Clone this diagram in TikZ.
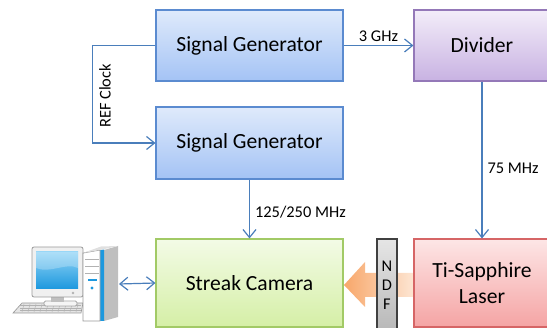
\documentclass[tikz,border=0pt]{standalone}
\usepackage{fontspec}
\setmainfont{Carlito}
\usetikzlibrary{arrows.meta}

\definecolor{linkblue}{HTML}{4A7EBB}
\definecolor{sgtop}{HTML}{DFEAFB}
\definecolor{sgbot}{HTML}{A4C3F5}
\definecolor{sgline}{HTML}{5B8BD0}
\definecolor{divtop}{HTML}{F3EDF9}
\definecolor{divbot}{HTML}{C8B2E2}
\definecolor{divline}{HTML}{9478B8}
\definecolor{camtop}{HTML}{F3FBE6}
\definecolor{cambot}{HTML}{D5EFA6}
\definecolor{camline}{HTML}{A2CA66}
\definecolor{lastop}{HTML}{FDE6E6}
\definecolor{lasbot}{HTML}{F5A4A4}
\definecolor{lasline}{HTML}{D66566}
\definecolor{beamdark}{HTML}{F8A76A}
\definecolor{beamlight}{HTML}{FDE6D4}
\definecolor{scrtop}{HTML}{92D4F6}
\definecolor{scrbot}{HTML}{1C98DE}

\tikzset{
    box/.style={draw, line width=1.1pt, inner sep=0pt, align=center,
        font=\fontsize{21.6}{26}\selectfont},
    link/.style={draw=linkblue, line width=1.2pt,
        -{Straight Barb[length=8pt,width=13pt]}},
    lbl/.style={font=\fontsize{16.4}{18}\selectfont, inner sep=2pt},
}

\begin{document}
\begin{tikzpicture}[x=1pt, y=-1pt]
    
    \clip (0,0) rectangle (547,328);
    
    % boxes
    \node [box, draw=sgline, top color=sgtop, bottom color=sgbot,
        minimum width=187pt, minimum height=71pt] (sgA) at (249.5,45.5) {Signal Generator};
    \node [box, draw=sgline, top color=sgtop, bottom color=sgbot,
        minimum width=187pt, minimum height=72pt] (sgB) at (249.5,143) {Signal Generator};
    \node [box, draw=divline, top color=divtop, bottom color=divbot,
        minimum width=136pt, minimum height=71pt] (div) at (482,45.5) {Divider};
    \node [box, draw=camline, top color=camtop, bottom color=cambot,
        minimum width=187pt, minimum height=88pt] (cam) at (249.5,283) {Streak Camera};
    
    % beam
    \shade [left color=beamdark, right color=beamlight]
        (414,273) -- (365,273) -- (365,262) -- (344,285) -- (365,307) -- (365,297) -- (414,297) -- cycle;
    
    \node [box, draw=lasline, top color=lastop, bottom color=lasbot,
        minimum width=136pt, minimum height=88pt] (laser) at (482,283) {Ti-Sapphire\\Laser};
    
    % filter
    \node [box, draw=black!75, top color=black!10, bottom color=black!28,
        minimum width=20pt, minimum height=92pt, font=\fontsize{16.4}{19}\selectfont] (ndf) at (387,285) {N\\D\\F};
    
    % connections
    \draw [link] (sgA.west) -- ++(-63,0) coordinate (refc) |- (sgB.west);
    \draw [link] (sgA) -- (div) node [lbl, midway, above=1pt] {3 GHz};
    \draw [link] (div) -- (laser) node [lbl, pos=0.55, right=3pt] {75 MHz};
    \draw [link] (sgB) -- (cam) node [lbl, pos=0.55, right=3pt] {125/250 MHz};
    
    % labels
    \node [lbl, rotate=90] (reflbl) at (105,96) {REF Clock};
    
    % computer
    \coordinate (pc) at (119,284);
    \draw [link, {Straight Barb[length=8pt,width=13pt]}-{Straight Barb[length=8pt,width=13pt]}] (pc) -- (cam.west);
    
    % keyboard
    \draw [black!40, fill=black!10, line width=0.6pt] (22,303) -- (83,303) -- (81,313) -- (13,313) -- cycle;
    \foreach \yy in {305.5,308,310.5}
        \draw [black!30, line width=0.4pt] (20,\yy) -- (81,\yy);
    \foreach \xx in {24,30,...,78}
        \draw [black!30, line width=0.4pt] (\xx,304) -- (\xx-2,312);
    
    % monitor
    \draw [black!35, fill=black!4, line width=0.8pt, rounded corners=1.5pt] (44,301) rectangle (77,306);
    \fill [black!25] (51,296) rectangle (64,302);
    \draw [black!40, fill=black!6, line width=0.8pt, rounded corners=2pt] (32,247) rectangle (83,297);
    \shade [top color=scrtop, bottom color=scrbot] (36,252) rectangle (78,289);
    \fill [white, opacity=0.25] (36,252) -- (78,252) -- (78,268) .. controls (66,262) and (50,274) .. (36,268) -- cycle;
    \fill [black!30] (73,293) circle (1.3);
    
    % tower
    \fill [black!25] (104,250) -- (118,246) -- (118,317) -- (104,321) -- cycle;
    \fill [scrbot] (100,250) -- (104,249.5) -- (104,321) -- (100,321) -- cycle;
    \draw [black!40, fill=white, line width=0.8pt] (83,253) -- (100,250) -- (100,321) -- (83,321) -- cycle;
    \fill [black!12] (83,253) -- (100,250) -- (118,246) -- (101,246.5) -- cycle;
    \foreach \yy in {259,266,273}
        \draw [black!30, line width=0.6pt] (85,\yy) -- (99,\yy);
    \draw [scrbot, line width=1.3pt] (88,280) -- (97,280);
    \fill [scrbot] (92,288) circle (1.6);
    
\end{tikzpicture}
\end{document}
